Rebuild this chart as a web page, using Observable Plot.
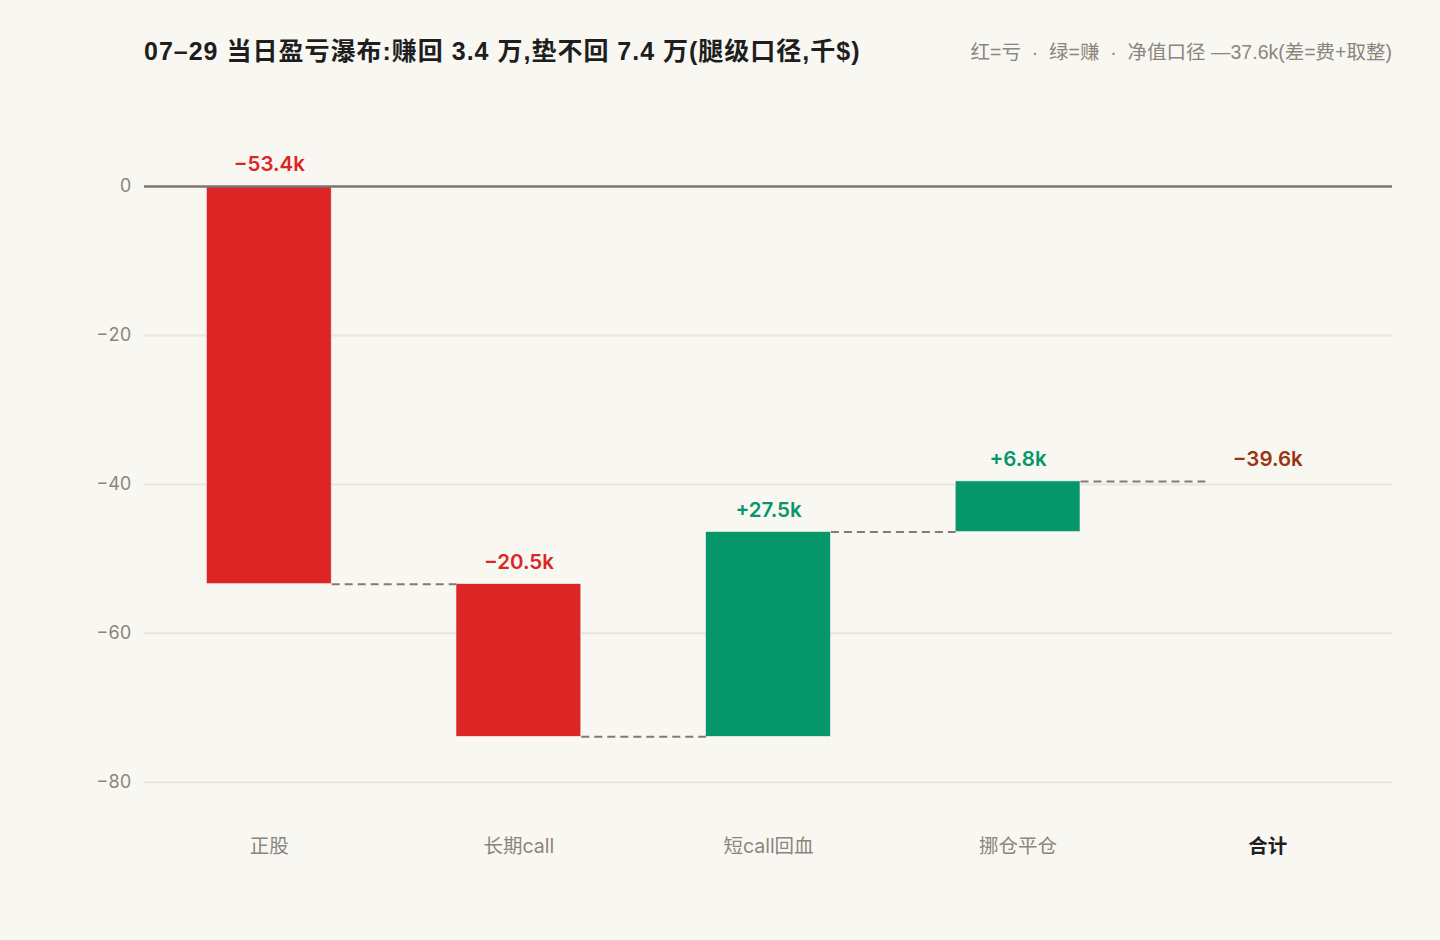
<!DOCTYPE html>
<html>
<head>
<meta charset="utf-8">
<script src="https://cdn.jsdelivr.net/npm/d3@7"></script>
<script src="https://cdn.jsdelivr.net/npm/@observablehq/plot@0.6"></script>
<style>
  html, body { margin: 0; padding: 0; background: #f9f7f2; }
  body { width: 1440px; height: 940px; position: relative; overflow: hidden;
         font-family: "Liberation Sans", "Noto Sans CJK SC", sans-serif; }
  #title { position: absolute; left: 144px; top: 31px; font-size: 25px; font-weight: 700; color: #1e1e1e; white-space: nowrap; letter-spacing: 1px; }
  #subtitle { position: absolute; right: 48px; top: 36px; font-size: 19.5px; color: #8a857d; white-space: pre; }
  #chart { position: absolute; left: 0; top: 0; }
</style>
</head>
<body>
<div id="chart"></div>
<div id="title">07–29 当日盈亏瀑布:赚回 3.4 万,垫不回 7.4 万(腿级口径,千$)</div>
<div id="subtitle">红=亏  ·  绿=赚  ·  净值口径 —37.6k(差=费+取整)</div>
<script>
const categories = ["正股", "长期call", "短call回血", "挪仓平仓", "合计"];
const deltas = [-53.4, -20.5, 27.5, 6.8, null];
const total = -39.6;
const yTicks = [0, -20, -40, -60, -80];

const RED = "#dc2626", GREEN = "#059669", TOTAL = "#9a3412";

// build waterfall rows
let run = 0;
const rows = categories.map((c, i) => {
  if (deltas[i] === null) {
    return { i, cat: c, start: total, end: total, value: total, isTotal: true };
  }
  const start = run; run += deltas[i];
  return { i, cat: c, start, end: run, value: deltas[i], isTotal: false };
});
const bars = rows.filter(d => !d.isTotal);
const totals = rows.filter(d => d.isTotal);
const links = rows.slice(0, -1).map((d, k) => ({ i: d.i, j: rows[k + 1].i, y: d.end }));
const fmt = v => (v > 0 ? "+" : "−") + Math.abs(v).toFixed(1) + "k";

const chart = Plot.plot({
  width: 1440,
  height: 940,
  marginLeft: 144,
  marginRight: 48,
  marginTop: 186,
  marginBottom: 121,
  style: { background: "transparent", fontFamily: "Inter, 'Noto Sans CJK SC', sans-serif" },
  x: { type: "linear", domain: [-0.5, categories.length - 0.5], axis: null },
  y: { domain: [-85, 0], axis: null },
  marks: [
    Plot.gridY(yTicks.filter(t => t !== 0), { stroke: "#ebe5dc", strokeOpacity: 1, strokeWidth: 2 }),
    Plot.axisY(yTicks, { tickSize: 0, tickPadding: 13, fontSize: 18, color: "#8a857d", tickFormat: d => d === 0 ? "0" : "−" + Math.abs(d) }),
    Plot.rectY(bars, {
      x1: d => d.i - 0.25, x2: d => d.i + 0.25,
      y1: "start", y2: "end",
      fill: d => d.value < 0 ? RED : GREEN,
      stroke: "#f3efe8", strokeWidth: 0.6
    }),
    Plot.link(links, {
      x1: d => d.i + 0.25, x2: d => d.j - 0.25, y1: "y", y2: "y",
      stroke: "#807b75", strokeWidth: 2, strokeDasharray: "8,5"
    }),
    Plot.ruleY([0], { stroke: "#7b7670", strokeWidth: 2.5 }),
    Plot.text(rows, {
      x: "i", y: d => Math.max(d.start, d.end),
      text: d => fmt(d.value), dy: -22,
      fill: d => d.isTotal ? TOTAL : (d.value < 0 ? RED : GREEN),
      fontSize: 20.5, fontWeight: 600
    }),
    Plot.text(bars, {
      x: "i", frameAnchor: "bottom", dy: 33,
      text: "cat", fill: "#8a857d", fontWeight: 400, fontSize: 19.5
    }),
    Plot.text(totals, {
      x: "i", frameAnchor: "bottom", dy: 33,
      text: "cat", fill: "#1e1e1e", fontWeight: 700, fontSize: 19.5
    })
  ]
});
document.getElementById("chart").append(chart);
</script>
</body>
</html>
